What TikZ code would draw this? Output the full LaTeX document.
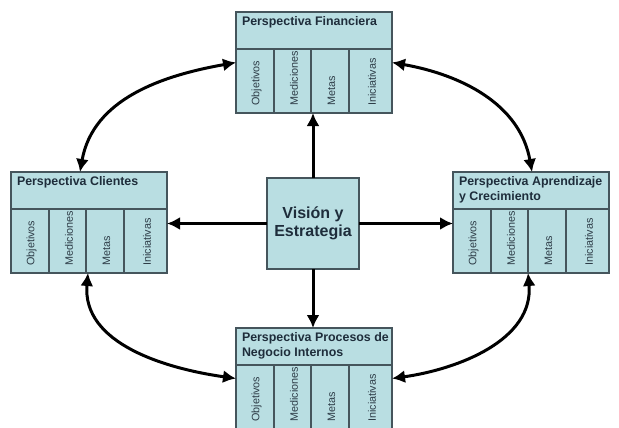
\documentclass[tikz,border=0pt]{standalone}
\usepackage{fontspec}
\setmainfont{Liberation Sans}
\usetikzlibrary{arrows.meta}

\definecolor{relleno}{HTML}{B9DEE2}
\definecolor{borde}{HTML}{45555C}
\definecolor{texto}{HTML}{1E2D3B}
\definecolor{textocol}{HTML}{2E3D48}

% One perspective block: id, left, top, title
\newcommand{\perspectiva}[4]{%
  \node[caja, anchor=north west] (#1) at (#2,-#3) {};
  \node[encabezado, anchor=north west] (#1-h) at (#1.north west) {};
  \node[titulo, anchor=north west] (#1-t) at ([shift={(6pt,-5pt)}]#1.north west) {#4};
  \node[columna, minimum width=38pt, anchor=north west] (#1-1) at (#1-h.south west) {};
  \node[columna, minimum width=37pt, anchor=north west] (#1-2) at (#1-1.north east) {};
  \node[columna, minimum width=38pt, anchor=north west] (#1-3) at (#1-2.north east) {};
  \node[columna, minimum width=43pt, anchor=north west] (#1-4) at (#1-3.north east) {};
  \node[etiqueta] (#1-l1) at ([shift={(1.5pt,7pt)}]#1-1.south) {Objetivos};
  \node[etiqueta] (#1-l2) at ([shift={(1.5pt,7pt)}]#1-2.south) {Mediciones};
  \node[etiqueta] (#1-l3) at ([shift={(1.5pt,7pt)}]#1-3.south) {Metas};
  \node[etiqueta] (#1-l4) at ([shift={(1.5pt,7pt)}]#1-4.south) {Iniciativas};
}

\tikzset{
  caja/.style={draw=borde, fill=relleno, line width=1.2pt, inner sep=0pt, outer sep=0pt,
    minimum width=156pt, minimum height=101pt},
  encabezado/.style={draw=borde, line width=1.2pt, inner sep=0pt, outer sep=0pt,
    minimum width=156pt, minimum height=37pt},
  columna/.style={draw=borde, line width=1.2pt, inner sep=0pt, outer sep=0pt,
    minimum height=64pt},
  titulo/.style={inner sep=0pt, outer sep=0pt, align=left, text=texto,
    font=\bfseries\fontsize{12.4}{15}\selectfont},
  etiqueta/.style={rotate=90, anchor=west, inner sep=0pt, text=textocol,
    font=\fontsize{10.8}{12}\selectfont},
  centro/.style={draw=borde, fill=relleno, line width=1.2pt, inner sep=0pt, outer sep=0pt,
    minimum width=92pt, minimum height=91pt, align=center, text=texto,
    font=\bfseries\fontsize{16}{18}\selectfont},
  punta/.tip={Latex[length=13pt,width=13pt]},
  flecha/.style={line width=3pt, -punta},
  doble/.style={line width=3pt, punta-punta},
}

\begin{document}
\begin{tikzpicture}[x=1pt,y=1pt]
  \useasboundingbox (0,0) rectangle (619,-428);
  \clip (0,0) rectangle (619,-428);
  \fill[white] (0,0) rectangle (619,-428);

  % Four perspectives
  \perspectiva{fin}{236}{12}{Perspectiva Financiera}
  \perspectiva{cli}{11}{172}{Perspectiva Clientes}
  \perspectiva{apr}{453}{172}{Perspectiva Aprendizaje\\y Crecimiento}
  \perspectiva{proc}{236}{328}{Perspectiva Procesos de\\Negocio Internos}

  % Centre
  \node[centro] (vis) at (313,-223.5) {Visión y\\Estrategia};

  % Straight links from the centre
  \draw[flecha] (vis.north) -- (vis.north |- fin.south);
  \draw[flecha] (vis.west) -- (vis.west -| cli.east);
  \draw[flecha] (vis.east) -- (vis.east -| apr.west);
  \draw[flecha] (vis.south) -- (vis.south |- proc.north);

  % Curved two-way links between perspectives
  \coordinate (cliN) at ([xshift=69pt]cli.north west);
  \coordinate (cliS) at ([xshift=77pt]cli.south west);
  \coordinate (aprN) at ([xshift=79pt]apr.north west);
  \coordinate (aprS) at ([xshift=75pt]apr.south west);
  \draw[doble] (cliN) to[out=80, in=190] (fin.west);
  \draw[doble] (fin.east) to[out=-10, in=100] (aprN);
  \draw[doble] (cliS) to[out=-95, in=172] (proc.west);
  \draw[doble] (aprS) to[out=-85, in=8] (proc.east);
\end{tikzpicture}
\end{document}
